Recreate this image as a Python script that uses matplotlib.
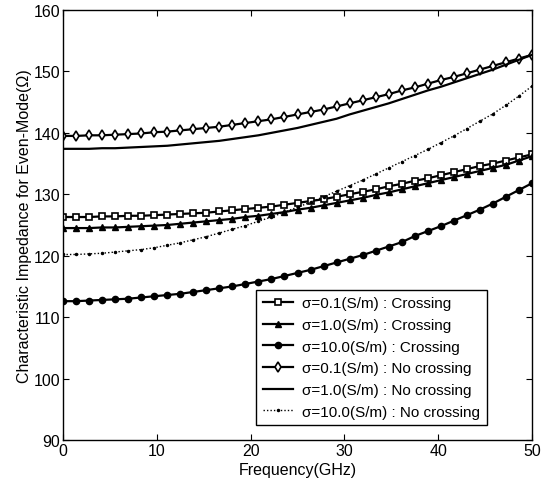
import matplotlib
matplotlib.use("Agg")
import matplotlib.pyplot as plt
import numpy as np

# frequency grid (GHz), 37 samples from 0 to 50
freq = np.linspace(0, 50, 37)

# sigma = 0.1 S/m, crossing (open squares)
z_s01_cross = [126.3, 126.3, 126.3, 126.4, 126.4, 126.5, 126.5, 126.6, 126.7, 126.8,
               126.9, 127.0, 127.2, 127.4, 127.6, 127.8, 128.0, 128.3, 128.6, 128.9,
               129.2, 129.6, 130.0, 130.4, 130.8, 131.3, 131.7, 132.2, 132.6, 133.1,
               133.6, 134.1, 134.6, 135.0, 135.5, 136.0, 136.5]
# sigma = 1.0 S/m, crossing (filled triangles)
z_s1_cross = [124.5, 124.5, 124.5, 124.6, 124.6, 124.7, 124.8, 124.9, 125.0, 125.2,
              125.4, 125.6, 125.8, 126.0, 126.3, 126.5, 126.8, 127.1, 127.5, 127.8,
              128.2, 128.6, 129.0, 129.4, 129.9, 130.3, 130.8, 131.3, 131.8, 132.3,
              132.8, 133.3, 133.8, 134.3, 134.8, 135.5, 136.2]
# sigma = 10.0 S/m, crossing (filled dots)
z_s10_cross = [112.6, 112.6, 112.7, 112.8, 112.9, 113.0, 113.2, 113.4, 113.6, 113.8,
               114.1, 114.4, 114.7, 115.0, 115.4, 115.8, 116.2, 116.7, 117.2, 117.7,
               118.3, 118.9, 119.5, 120.1, 120.8, 121.5, 122.2, 123.2, 124.0, 124.8,
               125.7, 126.6, 127.5, 128.5, 129.6, 130.7, 131.8]
# sigma = 0.1 S/m, no crossing (open diamonds)
z_s01_nocross = [139.5, 139.5, 139.6, 139.6, 139.7, 139.8, 139.9, 140.1, 140.2, 140.4,
                 140.6, 140.8, 141.0, 141.3, 141.6, 141.9, 142.2, 142.6, 143.0, 143.4,
                 143.8, 144.3, 144.8, 145.3, 145.8, 146.3, 146.9, 147.4, 148.0, 148.6,
                 149.1, 149.7, 150.3, 150.9, 151.5, 152.1, 152.7]
# sigma = 1.0 S/m, no crossing (solid line)
z_s1_nocross = [137.4, 137.4, 137.4, 137.5, 137.5, 137.6, 137.7, 137.8, 137.9, 138.1,
                138.3, 138.5, 138.7, 139.0, 139.3, 139.6, 140.0, 140.4, 140.8, 141.3,
                141.8, 142.3, 143.0, 143.6, 144.2, 144.8, 145.5, 146.2, 146.9, 147.5,
                148.2, 148.9, 149.6, 150.3, 151.1, 151.9, 152.7]
# sigma = 10.0 S/m, no crossing (dotted)
z_s10_nocross = [120.2, 120.2, 120.3, 120.4, 120.6, 120.8, 121.0, 121.3, 121.7, 122.1,
                 122.6, 123.1, 123.7, 124.3, 124.9, 125.6, 126.3, 127.1, 127.9, 128.7,
                 129.6, 130.5, 131.4, 132.3, 133.3, 134.3, 135.3, 136.3, 137.3, 138.4,
                 139.5, 140.7, 141.9, 143.1, 144.5, 146.0, 147.6]

labels = ["σ=0.1(S/m) : Crossing", "σ=1.0(S/m) : Crossing", "σ=10.0(S/m) : Crossing",
          "σ=0.1(S/m) : No crossing", "σ=1.0(S/m) : No crossing", "σ=10.0(S/m) : No crossing"]

plt.rcParams['font.family'] = ['Liberation Sans', 'DejaVu Sans']

fig = plt.figure(figsize=(5.48, 4.89), dpi=100)
ax = fig.add_axes([63 / 548, 1 - 441 / 489, 469 / 548, 430 / 489])

lw = 1.6
ax.plot(freq, z_s01_cross, color='k', lw=lw, marker='s', ms=4.5, mfc='white', mec='k', mew=1.2, label=labels[0])
ax.plot(freq, z_s1_cross, color='k', lw=lw, marker='^', ms=5, mfc='k', mec='k', label=labels[1])
ax.plot(freq, z_s10_cross, color='k', lw=lw, marker='o', ms=4.5, mfc='k', mec='k', label=labels[2])
ax.plot(freq, z_s01_nocross, color='k', lw=lw, marker='d', ms=5, mfc='white', mec='k', mew=1.2, label=labels[3])
ax.plot(freq, z_s1_nocross, color='k', lw=lw, label=labels[4])
ax.plot(freq, z_s10_nocross, color='k', lw=1.0, ls=(0, (1, 1.5)), marker='.', ms=3, label=labels[5])

ax.set_xlim(0, 50)
ax.set_ylim(90, 160)
ax.set_xticks([0, 10, 20, 30, 40, 50])
ax.set_yticks([90, 100, 110, 120, 130, 140, 150, 160])
ax.tick_params(direction='in', top=True, right=True, labelsize=11.5, length=4, pad=2)
for s in ax.spines.values():
    s.set_linewidth(1.0)

ax.set_xlabel("Frequency(GHz)", fontsize=11.5, labelpad=3)
ax.set_ylabel("Characteristic Impedance for Even-Mode(Ω)", fontsize=11.5, labelpad=1)

leg = ax.legend(loc='lower right', bbox_to_anchor=(0.921, 0.016), fontsize=11,
                frameon=True, fancybox=False, edgecolor='k', framealpha=1,
                handlelength=2.0, borderpad=0.45, labelspacing=0.5, handletextpad=0.6)
leg.get_frame().set_linewidth(1.0)

fig.savefig("out.png", dpi=100)
